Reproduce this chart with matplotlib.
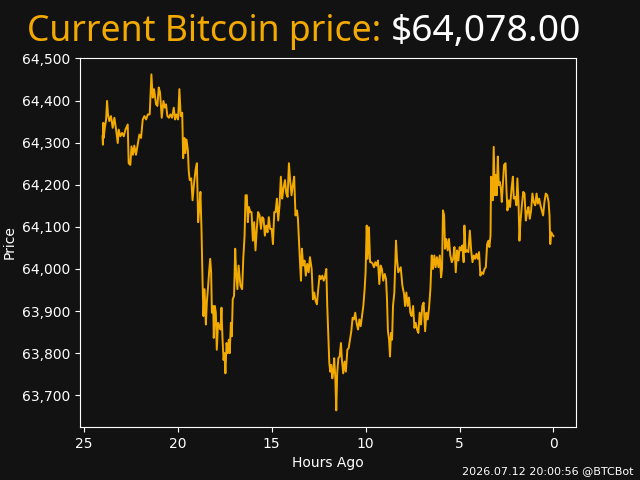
import matplotlib
matplotlib.use('Agg')
import matplotlib.pyplot as plt
from matplotlib.ticker import StrMethodFormatter

# ---------------------DATA-------------------------------------------
hours = [24.00, 23.98, 23.96, 23.94, 23.88, 23.81, 23.76, 23.71, 23.64, 23.55,
         23.46, 23.37, 23.28, 23.19, 23.14, 23.05, 22.96, 22.87, 22.78, 22.66,
         22.61, 22.52, 22.46, 22.38, 22.31, 22.22, 22.13, 22.04, 21.95, 21.86,
         21.77, 21.68, 21.59, 21.49, 21.40, 21.33, 21.26, 21.15, 21.08, 21.01,
         20.94, 20.85, 20.76, 20.69, 20.62, 20.55, 20.47, 20.39, 20.30, 20.21,
         20.14, 20.07, 19.98, 19.91, 19.84, 19.76, 19.71, 19.64, 19.59, 19.53,
         19.46, 19.41, 19.36, 19.28, 19.21, 19.14, 19.05, 18.98, 18.91, 18.84,
         18.79, 18.73, 18.68, 18.63, 18.57, 18.50, 18.45, 18.38, 18.33, 18.27,
         18.22, 18.18, 18.11, 18.08, 18.02, 17.97, 17.92, 17.85, 17.79, 17.72,
         17.67, 17.62, 17.56, 17.51, 17.46, 17.40, 17.33, 17.28, 17.23, 17.17,
         17.12, 17.07, 17.00, 16.94, 16.89, 16.82, 16.76,
         16.66, 16.57, 16.51, 16.44, 16.39, 16.32, 16.27, 16.21, 16.14, 16.07,
         16.00, 15.93, 15.86, 15.79, 15.72, 15.64, 15.57, 15.50, 15.43, 15.36,
         15.29, 15.22, 15.15, 15.08, 15.00, 14.93, 14.86, 14.79, 14.72, 14.65,
         14.58, 14.51, 14.44, 14.37, 14.29, 14.22, 14.15, 14.08, 14.01, 13.94,
         13.87, 13.80, 13.73, 13.65, 13.60, 13.55, 13.50, 13.44, 13.39, 13.32,
         13.25, 13.18, 13.11, 13.03, 12.96, 12.87, 12.80, 12.73, 12.66, 12.59,
         12.52, 12.45, 12.38, 12.30, 12.23, 12.17, 12.09, 12.04, 11.99, 11.93,
         11.88, 11.83, 11.77, 11.72, 11.67, 11.61, 11.56, 11.51, 11.45, 11.38,
         11.31, 11.26, 11.19, 11.12, 11.05, 10.97, 10.90, 10.83, 10.76, 10.69,
         10.62, 10.55, 10.48, 10.40, 10.33, 10.26, 10.19, 10.12, 10.05, 10.00,
         9.94, 9.89, 9.82, 9.76, 9.69, 9.62, 9.55, 9.48, 9.41, 9.34,
         9.27, 9.20, 9.13, 9.06, 8.98, 8.91, 8.86, 8.81, 8.75, 8.70,
         8.65, 8.59, 8.54, 8.47, 8.42, 8.38, 8.33, 8.26,
         8.13, 8.04, 7.95, 7.90, 7.83, 7.76, 7.69, 7.62, 7.55, 7.47,
         7.40, 7.33, 7.26, 7.19, 7.12, 7.05, 6.98, 6.91, 6.83, 6.76,
         6.69, 6.62, 6.55, 6.48, 6.41, 6.34, 6.27, 6.20, 6.12, 6.05,
         5.98, 5.93, 5.88, 5.82, 5.77, 5.70, 5.63, 5.56, 5.49, 5.41,
         5.34, 5.27, 5.20, 5.13, 5.06, 4.99, 4.92, 4.85, 4.78, 4.74,
         4.67, 4.60, 4.53, 4.45, 4.38, 4.31, 4.24, 4.17, 4.10, 4.03,
         3.96, 3.89, 3.82, 3.74, 3.67, 3.60, 3.53, 3.46, 3.41, 3.35,
         3.32, 3.27, 3.23, 3.18, 3.12, 3.07, 3.02, 2.96, 2.91, 2.86,
         2.80, 2.75, 2.70, 2.63, 2.55, 2.50, 2.45, 2.38, 2.31, 2.23,
         2.16, 2.11, 2.04, 1.97, 1.92, 1.86, 1.81, 1.76, 1.68, 1.61,
         1.54, 1.47, 1.40, 1.33, 1.26, 1.19, 1.12, 1.05, 0.97, 0.90,
         0.83, 0.76, 0.69, 0.62, 0.55, 0.48, 0.41, 0.33, 0.26, 0.21,
         0.17, 0.12, 0.08, 0.00]

prices = [64315, 64295, 64347, 64311, 64335, 64355, 64399, 64367, 64351, 64363,
          64335, 64359, 64331, 64299, 64331, 64315, 64323, 64315, 64331, 64343,
          64251, 64247, 64291, 64271, 64293, 64271, 64295, 64319, 64311, 64355,
          64363, 64355, 64367, 64367, 64462, 64407, 64427, 64391, 64387, 64431,
          64419, 64359, 64399, 64383, 64391, 64363, 64359, 64367, 64359, 64383,
          64355, 64367, 64355, 64427, 64363, 64371, 64263, 64311, 64275, 64307,
          64283, 64231, 64211, 64215, 64163, 64199, 64235, 64251, 64111, 64151,
          64183, 64087, 63976, 63888, 63952, 63868, 63920, 63960, 63992, 64024,
          63992, 63896, 63912, 63836, 63912, 63896, 63808, 63872, 63864, 63856,
          63908, 63840, 63784, 63800, 63752, 63824, 63800, 63832, 63800, 63872,
          63840, 63928, 63936, 64048, 63992, 63952, 64008,
          63960, 63952, 64024, 64079, 64175, 64175, 64111, 64147, 64135, 64135,
          64067, 64111, 64044, 64095, 64135, 64127, 64095, 64123, 64119, 64079,
          64103, 64087, 64123, 64095, 64095, 64059, 64135, 64135, 64167, 64115,
          64151, 64219, 64167, 64191, 64211, 64179, 64171, 64251, 64207, 64175,
          64199, 64219, 64127, 64139, 64119, 64071, 64024, 63972, 64048, 64008,
          64020, 63984, 64012, 63992, 64028, 64000, 63928, 63944, 63924, 63916,
          63952, 63984, 63976, 63984, 63972, 63980, 64000, 63912, 63848, 63776,
          63756, 63772, 63740, 63756, 63788, 63740, 63664, 63752, 63788, 63792,
          63824, 63784, 63752, 63780, 63756, 63808, 63812, 63832, 63852, 63884,
          63880, 63896, 63872, 63856, 63880, 63864, 63888, 63912, 63952, 63992,
          64103, 64024, 64099, 64016, 64016, 64012, 64004, 64016, 64008, 64020,
          63964, 64008, 64000, 63972, 63988, 63976, 63928, 63852, 63832, 63792,
          63848, 63832, 63912, 63944, 64016, 64067, 64024, 63992,
          64004, 63960, 63940, 63912, 63944, 63912, 63932, 63896, 63888, 63912,
          63860, 63872, 63856, 63848, 63896, 63868, 63912, 63920, 63852, 63896,
          63880, 63908, 63952, 64032, 64000, 64032, 64004, 64028, 64004, 64032,
          63980, 64000, 64139, 64127, 64048, 64071, 64044, 64071, 64032, 64016,
          64024, 64052, 63992, 64044, 64020, 64052, 64044, 64056, 64016, 64103,
          64040, 64044, 64040, 64091, 64044, 64016, 64032, 64024, 64036, 64024,
          64040, 63984, 63992, 63988, 64000, 64004, 64059, 64067, 64052, 64079,
          64219, 64199, 64163, 64290, 64175, 64223, 64175, 64267, 64199, 64207,
          64191, 64159, 64195, 64247, 64251, 64187, 64139, 64163, 64147, 64191,
          64219, 64167, 64171, 64151, 64215, 64159, 64067, 64111, 64151, 64183,
          64179, 64115, 64135, 64147, 64119, 64139, 64179, 64159, 64151, 64179,
          64155, 64167, 64151, 64139, 64127, 64159, 64179, 64175, 64159, 64127,
          64059, 64087, 64083, 64078]

current_price = "$64,078.00"
stamp = "2026.07.12 20:00:56 @BTCBot"
# --------------------------------------------------------------------

bg = '#121212'
orange = '#f2a900'

fig, ax = plt.subplots(figsize=(6.4, 4.8), dpi=100)
fig.patch.set_facecolor(bg)
ax.set_facecolor(bg)

ax.plot(hours, prices, color=orange, lw=1.4)
ax.invert_xaxis()

ax.yaxis.set_major_formatter(StrMethodFormatter('{x:,.0f}'))
for s in ax.spines.values():
    s.set_color('white')
ax.tick_params(colors='white')
ax.set_xlabel('Hours Ago', color='white')
ax.set_ylabel('Price', color='white')

# title in two colours
fig.text(27 / 640, 1 - 41 / 480, 'Current Bitcoin price:', fontsize=25.6,
         family='Noto Sans', color=orange, va='baseline', ha='left')
fig.text(391 / 640, 1 - 41 / 480, current_price, fontsize=26.8,
         family='Noto Sans', color='white', va='baseline', ha='left')

fig.text(633 / 640, 1 - 474 / 480, stamp, fontsize=8, color='white',
         ha='right', va='baseline')

fig.savefig('out.png', dpi=100, facecolor=bg)
